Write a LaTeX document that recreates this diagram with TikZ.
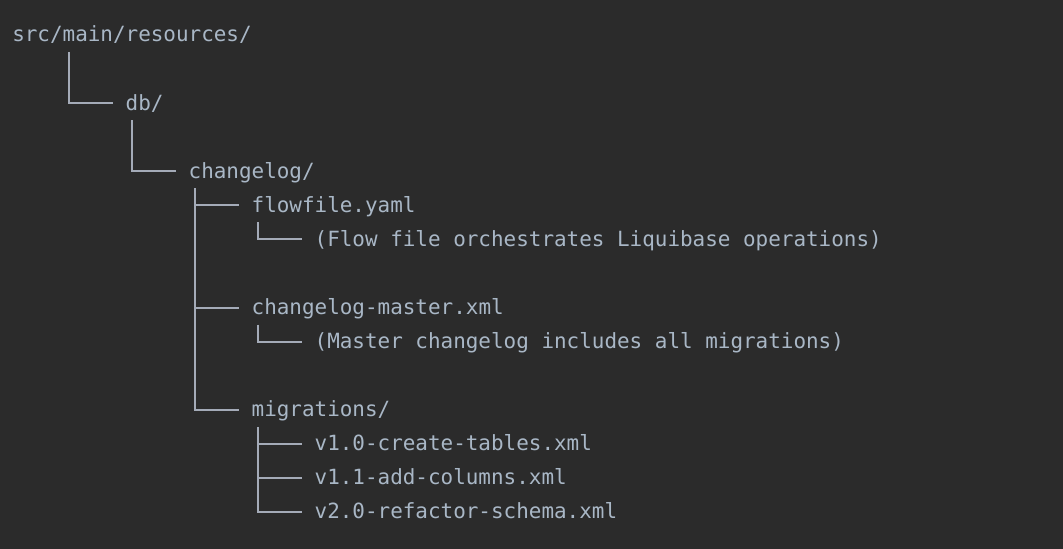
\documentclass[tikz,border=0pt]{standalone}
\usepackage{fontspec}
\setmonofont{DejaVu Sans Mono}
\usetikzlibrary{calc,positioning}

\definecolor{editorbg}{HTML}{2B2B2B}
\definecolor{treetext}{HTML}{A9B7C6}
\definecolor{treeline}{HTML}{A4ABB8}

% one character cell and one line of the listing, in pixels
\def\colw{12.6}
\def\rowh{34.07}

\begin{document}
\begin{tikzpicture}[x=0.75pt,y=-0.75pt,
    fileentry/.style={
    % text sits on its baseline
    anchor=base west,inner sep=0pt,
    % The rest
    text=treetext,
    font=\ttfamily\fontsize{15.7}{18}\selectfont},
    branch/.style={draw=treeline,line width=1.5pt}]
    \fill[editorbg] (0,0) rectangle (1063,549);
    \node (src) [fileentry] at (12,42) {src/main/resources/};
    \node (db) [fileentry] at ($(src.base west)+(9*\colw,2*\rowh)$) {db/};
    \node (changelog) [fileentry] at ($(db.base west)+(5*\colw,2*\rowh)$) {changelog/};
    \node (flowfile) [fileentry] at ($(changelog.base west)+(5*\colw,\rowh)$) {flowfile.yaml};
    \node (flownote) [fileentry] at ($(flowfile.base west)+(5*\colw,\rowh)$) {(Flow file orchestrates Liquibase operations)};
    \node (master) [fileentry] at ($(flowfile.base west)+(0,3*\rowh)$) {changelog-master.xml};
    \node (masternote) [fileentry] at ($(master.base west)+(5*\colw,\rowh)$) {(Master changelog includes all migrations)};
    \node (migrations) [fileentry] at ($(master.base west)+(0,3*\rowh)$) {migrations/};
    \node (v10) [fileentry] at ($(migrations.base west)+(5*\colw,\rowh)$) {v1.0-create-tables.xml};
    \node (v11) [fileentry] at ($(v10.base west)+(0,\rowh)$) {v1.1-add-columns.xml};
    \node (v20) [fileentry] at ($(v11.base west)+(0,\rowh)$) {v2.0-refactor-schema.xml};
    % tree lines
    \draw[branch] ($(src.base west)+(4.5*\colw,10)$) |- ($(db.base west)+(-\colw,-7)$);
    \draw[branch] ($(db.base west)+(0.5*\colw,10)$) |- ($(changelog.base west)+(-\colw,-7)$);
    \draw[branch] ($(changelog.base west)+(0.5*\colw,10)$) |- ($(migrations.base west)+(-\colw,-7)$);
    \draw[branch] ($(flowfile.base west)+(0.5*\colw,10)$) |- ($(flownote.base west)+(-\colw,-7)$);
    \draw[branch] ($(master.base west)+(0.5*\colw,10)$) |- ($(masternote.base west)+(-\colw,-7)$);
    \draw[branch] ($(migrations.base west)+(0.5*\colw,10)$) |- ($(v20.base west)+(-\colw,-7)$);
    \foreach \n in {flowfile,master,v10,v11}
        \draw[branch] ($(\n.base west)+(-4.5*\colw,-7)$) -- ($(\n.base west)+(-\colw,-7)$);
\end{tikzpicture}
\end{document}
